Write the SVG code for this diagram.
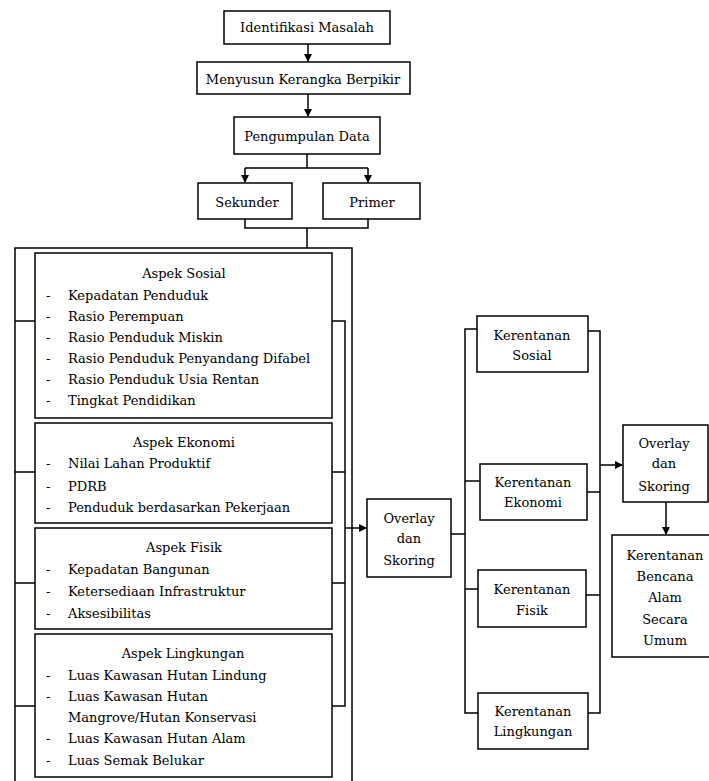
<svg xmlns="http://www.w3.org/2000/svg" width="709" height="781" viewBox="0 0 709 781">
<defs>
<marker id="arr" markerWidth="8" markerHeight="8" refX="7" refY="4" orient="auto" markerUnits="userSpaceOnUse">
<path d="M0,0 L8,4 L0,8 Z" fill="#000"/>
</marker>
<style>
rect{fill:#fff;stroke:#000;stroke-width:1.5}
.c{fill:none;stroke:#000;stroke-width:1.5}
.m{text-anchor:middle}
</style>
</defs>
<rect width="709" height="781" style="fill:#fff;stroke:none"/>
<g id="connectors">
<path class="c" d="M308,44 V61" marker-end="url(#arr)"/>
<path class="c" d="M308,94 V116" marker-end="url(#arr)"/>
<path class="c" d="M307,154 V168 M245,168 H368"/>
<path class="c" d="M245,168 V182" marker-end="url(#arr)"/>
<path class="c" d="M368,168 V182" marker-end="url(#arr)"/>
<path class="c" d="M245,219 V228 H368 V219 M307,228 V248"/>
<path class="c" d="M15,781 V248 H352 V781"/>
<path class="c" d="M15,321 H35 M15,472 H35 M15,583 H35 M15,706 H35"/>
<path class="c" d="M332,321 H345 V706 H332 M332,472 H345 M332,583 H345"/>
<path class="c" d="M345,528 H366" marker-end="url(#arr)"/>
<path class="c" d="M451,534 H465 M477,329 H465 V713 H478 M465,481 H480 M465,589 H478"/>
<path class="c" d="M588,331 H600 V713 H588 M587,492 H600 M586,595 H600"/>
<path class="c" d="M600,465 H622" marker-end="url(#arr)"/>
<path class="c" d="M666,502 V534" marker-end="url(#arr)"/>
</g>
<g font-family="DejaVu Serif, Liberation Serif, serif" font-size="13" fill="#000">
<g id="identifikasi"><rect x="224" y="11" width="166" height="33"/><text class="m" x="307" y="32">Identifikasi Masalah</text></g>
<g id="menyusun"><rect x="197" y="62" width="213" height="32"/><text class="m" x="303" y="84">Menyusun Kerangka Berpikir</text></g>
<g id="pengumpulan"><rect x="234" y="117" width="146" height="37"/><text class="m" x="307" y="141">Pengumpulan Data</text></g>
<g id="sekunder"><rect x="198" y="183" width="94" height="36"/><text class="m" x="247" y="207">Sekunder</text></g>
<g id="primer"><rect x="323" y="183" width="97" height="36"/><text class="m" x="372" y="207">Primer</text></g>
<g id="aspek-sosial"><rect x="35" y="253" width="297" height="165"/>
<text class="m" x="184" y="278">Aspek Sosial</text>
<text x="46" y="300">-</text><text x="68" y="300">Kepadatan Penduduk</text>
<text x="46" y="321">-</text><text x="68" y="321">Rasio Perempuan</text>
<text x="46" y="342">-</text><text x="68" y="342">Rasio Penduduk Miskin</text>
<text x="46" y="363">-</text><text x="68" y="363">Rasio Penduduk Penyandang Difabel</text>
<text x="46" y="384">-</text><text x="68" y="384">Rasio Penduduk Usia Rentan</text>
<text x="46" y="405">-</text><text x="68" y="405">Tingkat Pendidikan</text>
</g>
<g id="aspek-ekonomi"><rect x="35" y="423" width="297" height="100"/>
<text class="m" x="184" y="447">Aspek Ekonomi</text>
<text x="46" y="468">-</text><text x="68" y="468">Nilai Lahan Produktif</text>
<text x="46" y="491">-</text><text x="68" y="491">PDRB</text>
<text x="46" y="512">-</text><text x="68" y="512">Penduduk berdasarkan Pekerjaan</text>
</g>
<g id="aspek-fisik"><rect x="35" y="528" width="297" height="101"/>
<text class="m" x="184" y="552">Aspek Fisik</text>
<text x="46" y="574">-</text><text x="68" y="574">Kepadatan Bangunan</text>
<text x="46" y="596">-</text><text x="68" y="596">Ketersediaan Infrastruktur</text>
<text x="46" y="618">-</text><text x="68" y="618">Aksesibilitas</text>
</g>
<g id="aspek-lingkungan"><rect x="35" y="634" width="297" height="143"/>
<text class="m" x="183" y="658">Aspek Lingkungan</text>
<text x="46" y="680">-</text><text x="68" y="680">Luas Kawasan Hutan Lindung</text>
<text x="46" y="701">-</text><text x="68" y="701">Luas Kawasan Hutan</text>
<text x="68" y="722">Mangrove/Hutan Konservasi</text>
<text x="46" y="743">-</text><text x="68" y="743">Luas Kawasan Hutan Alam</text>
<text x="46" y="765">-</text><text x="68" y="765">Luas Semak Belukar</text>
</g>
<g id="overlay-1"><rect x="367" y="499" width="84" height="78"/>
<text class="m" x="409" y="523">Overlay</text><text class="m" x="409" y="543">dan</text><text class="m" x="409" y="565">Skoring</text></g>
<g id="kerentanan-sosial"><rect x="477" y="316" width="111" height="56"/>
<text class="m" x="532" y="340">Kerentanan</text><text class="m" x="532" y="360">Sosial</text></g>
<g id="kerentanan-ekonomi"><rect x="480" y="464" width="107" height="56"/>
<text class="m" x="533" y="487">Kerentanan</text><text class="m" x="533" y="507">Ekonomi</text></g>
<g id="kerentanan-fisik"><rect x="478" y="570" width="108" height="57"/>
<text class="m" x="532" y="594">Kerentanan</text><text class="m" x="532" y="615">Fisik</text></g>
<g id="kerentanan-lingkungan"><rect x="478" y="693" width="110" height="56"/>
<text class="m" x="533" y="716">Kerentanan</text><text class="m" x="533" y="736">Lingkungan</text></g>
<g id="overlay-2"><rect x="623" y="425" width="85" height="77"/>
<text class="m" x="664" y="448">Overlay</text><text class="m" x="664" y="468">dan</text><text class="m" x="664" y="491">Skoring</text></g>
<g id="kerentanan-bencana"><rect x="612" y="535" width="100" height="122"/>
<text class="m" x="665" y="560">Kerentanan</text><text class="m" x="665" y="581">Bencana</text><text class="m" x="665" y="602">Alam</text><text class="m" x="665" y="624">Secara</text><text class="m" x="665" y="645">Umum</text></g>
</g>
</svg>
